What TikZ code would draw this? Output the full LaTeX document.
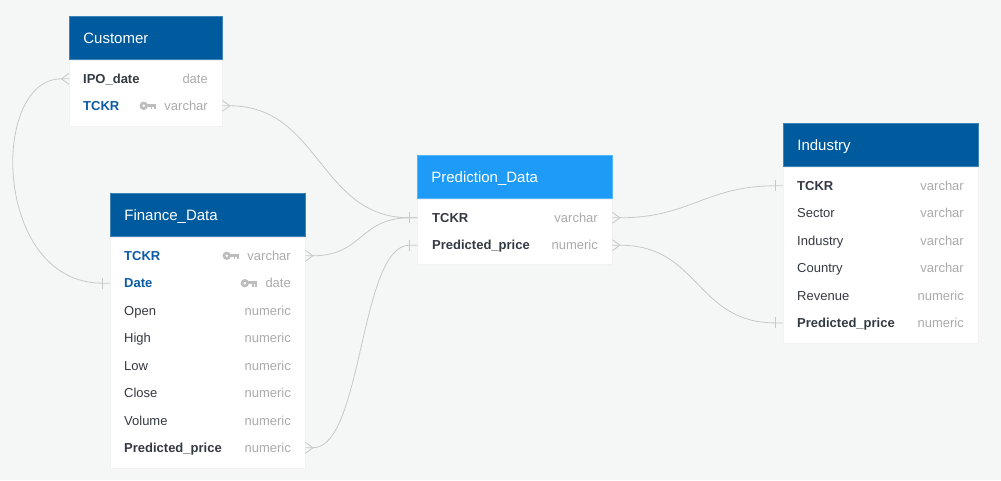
\documentclass[tikz,border=0pt]{standalone}
\usepackage{fontspec}
\setmainfont{Liberation Sans}
\usetikzlibrary{calc}

\definecolor{bgcol}{HTML}{F5F6F6}
\definecolor{headdark}{HTML}{005A9E}
\definecolor{headlight}{HTML}{1E9BF7}
\definecolor{fieldtext}{HTML}{343A42}
\definecolor{keytext}{HTML}{0B5CA5}
\definecolor{typetext}{HTML}{ABABAB}
\definecolor{keygray}{HTML}{BDBDBD}
\definecolor{linecol}{HTML}{C8C8C8}

\tikzset{
  tablehead/.style={rectangle, fill=#1, draw=#1!75!white, line width=0.7pt, anchor=north west,
    inner xsep=14pt, inner ysep=0pt, minimum height=43pt, text=white, align=left,
    text height=11pt, text depth=0pt, font=\fontsize{15}{18}\selectfont},
  tablebody/.style={rectangle, fill=white, draw=black!5, anchor=north west, inner sep=0pt},
  field/.style={anchor=west, inner sep=0pt, yshift=-0.8pt, text height=9.3pt, text depth=0pt,
    text=fieldtext, font=\fontsize{13}{15}\selectfont},
  bfield/.style={field, font=\fontsize{13}{15}\selectfont\bfseries},
  keyfield/.style={bfield, text=keytext},
  ftype/.style={field, anchor=east, text=typetext},
  conn/.style={draw=linecol, line width=0.8pt},
  crowfoot/.pic={\draw[conn] (0,-5.5) -- (-7.5,0) -- (0,5.5);},
  onebar/.pic={\draw[conn] (-7.5,-5.5) -- (-7.5,5.5);},
  keyicon/.pic={
    \fill[keygray, even odd rule] (-12.5,0) circle[radius=4.2] (-12.5,0) circle[radius=1.6];
    \fill[keygray] (-9,-2) rectangle (0,1.2);
    \fill[keygray] (-5.5,1.2) rectangle (-3.8,3.6);
    \fill[keygray] (-2,1.2) rectangle (0,3.6);
  }
}

\begin{document}
\begin{tikzpicture}[x=1pt, y=-1pt]
  \fill[bgcol] (0,0) rectangle (1001,480);
  \useasboundingbox (0,0) rectangle (1001,480);

  % Customer table
  \node[tablehead=headdark, text width=125pt] (cust) at (69,16) {Customer};
  \node[tablebody, minimum width=153pt, minimum height=66pt] (custbody) at (cust.south west) {};
  \node[bfield] (custIPO) at (83,78) {IPO\_date};
  \node[keyfield] (custTCKR) at (83,105) {TCKR};
  \node[ftype] (custIPOt) at (208,78) {date};
  \node[ftype] (custTCKRt) at (208,105) {varchar};
  \pic at ($(custTCKRt.west)+(-8,0)$) {keyicon};

  % Finance_Data table
  \node[tablehead=headdark, text width=167pt] (fin) at (110,193) {Finance\_Data};
  \node[tablebody, minimum width=195pt, minimum height=231pt] (finbody) at (fin.south west) {};
  \node[keyfield] (finTCKR) at (124,255) {TCKR};
  \node[keyfield] (finDate) at (124,282.4) {Date};
  \node[field] (finOpen) at (124,309.9) {Open};
  \node[field] (finHigh) at (124,337.3) {High};
  \node[field] (finLow) at (124,364.7) {Low};
  \node[field] (finClose) at (124,392.1) {Close};
  \node[field] (finVolume) at (124,419.6) {Volume};
  \node[bfield] (finPrice) at (124,447) {Predicted\_price};
  \node[ftype] (finTCKRt) at (291,255) {varchar};
  \node[ftype] (finDatet) at (291,282.4) {date};
  \node[ftype] (finOpent) at (291,309.9) {numeric};
  \node[ftype] (finHight) at (291,337.3) {numeric};
  \node[ftype] (finLowt) at (291,364.7) {numeric};
  \node[ftype] (finCloset) at (291,392.1) {numeric};
  \node[ftype] (finVolumet) at (291,419.6) {numeric};
  \node[ftype] (finPricet) at (291,447) {numeric};
  \pic at ($(finTCKRt.west)+(-8,0)$) {keyicon};
  \pic at ($(finDatet.west)+(-8,0)$) {keyicon};

  % Prediction_Data table
  \node[tablehead=headlight, text width=167pt] (pred) at (417,155) {Prediction\_Data};
  \node[tablebody, minimum width=195pt, minimum height=65pt] (predbody) at (pred.south west) {};
  \node[bfield] (predTCKR) at (432,217) {TCKR};
  \node[bfield] (predPrice) at (432,244.4) {Predicted\_price};
  \node[ftype] (predTCKRt) at (598,217) {varchar};
  \node[ftype] (predPricet) at (598,244.4) {numeric};

  % Industry table
  \node[tablehead=headdark, text width=167pt] (ind) at (783,123) {Industry};
  \node[tablebody, minimum width=195pt, minimum height=176pt] (indbody) at (ind.south west) {};
  \node[bfield] (indTCKR) at (797,185) {TCKR};
  \node[field] (indSector) at (797,212.4) {Sector};
  \node[field] (indIndustry) at (797,239.9) {Industry};
  \node[field] (indCountry) at (797,267.3) {Country};
  \node[field] (indRevenue) at (797,294.7) {Revenue};
  \node[bfield] (indPrice) at (797,322.1) {Predicted\_price};
  \node[ftype] (indTCKRt) at (964,185) {varchar};
  \node[ftype] (indSectort) at (964,212.4) {varchar};
  \node[ftype] (indIndustryt) at (964,239.9) {varchar};
  \node[ftype] (indCountryt) at (964,267.3) {varchar};
  \node[ftype] (indRevenuet) at (964,294.7) {numeric};
  \node[ftype] (indPricet) at (964,322.1) {numeric};

  % Connectors
  \draw[conn] (custIPO -| custbody.west) -- ++(-7.5,0)
    .. controls +(-72,0) and +(-110,0) .. ($(finDate -| finbody.west)+(-7.5,0)$) -- (finDate -| finbody.west);
  \draw[conn] (custTCKR -| custbody.east) -- ++(7.5,0)
    .. controls +(90,0) and +(-90,0) .. ($(predTCKR -| predbody.west)+(-7.5,0)$) -- (predTCKR -| predbody.west);
  \draw[conn] (finTCKR -| finbody.east) -- ++(7.5,0)
    .. controls +(50,0) and +(-50,0) .. ($(predTCKR -| predbody.west)+(-7.5,0)$) -- (predTCKR -| predbody.west);
  \draw[conn] (finPrice -| finbody.east) -- ++(7.5,0)
    .. controls +(50,0) and +(-50,0) .. ($(predPrice -| predbody.west)+(-7.5,0)$) -- (predPrice -| predbody.west);
  \draw[conn] (predTCKR -| predbody.east) -- ++(7.5,0)
    .. controls +(70,0) and +(-70,0) .. ($(indTCKR -| indbody.west)+(-7.5,0)$) -- (indTCKR -| indbody.west);
  \draw[conn] (predPrice -| predbody.east) -- ++(7.5,0)
    .. controls +(80,0) and +(-80,0) .. ($(indPrice -| indbody.west)+(-7.5,0)$) -- (indPrice -| indbody.west);

  % End marks
  \pic at (custIPO -| custbody.west) {crowfoot};
  \pic[xscale=-1] at (custTCKR -| custbody.east) {crowfoot};
  \pic[xscale=-1] at (finTCKR -| finbody.east) {crowfoot};
  \pic[xscale=-1] at (finPrice -| finbody.east) {crowfoot};
  \pic[xscale=-1] at (predTCKR -| predbody.east) {crowfoot};
  \pic[xscale=-1] at (predPrice -| predbody.east) {crowfoot};
  \pic at (finDate -| finbody.west) {onebar};
  \pic at (predTCKR -| predbody.west) {onebar};
  \pic at (predPrice -| predbody.west) {onebar};
  \pic at (indTCKR -| indbody.west) {onebar};
  \pic at (indPrice -| indbody.west) {onebar};
\end{tikzpicture}
\end{document}
